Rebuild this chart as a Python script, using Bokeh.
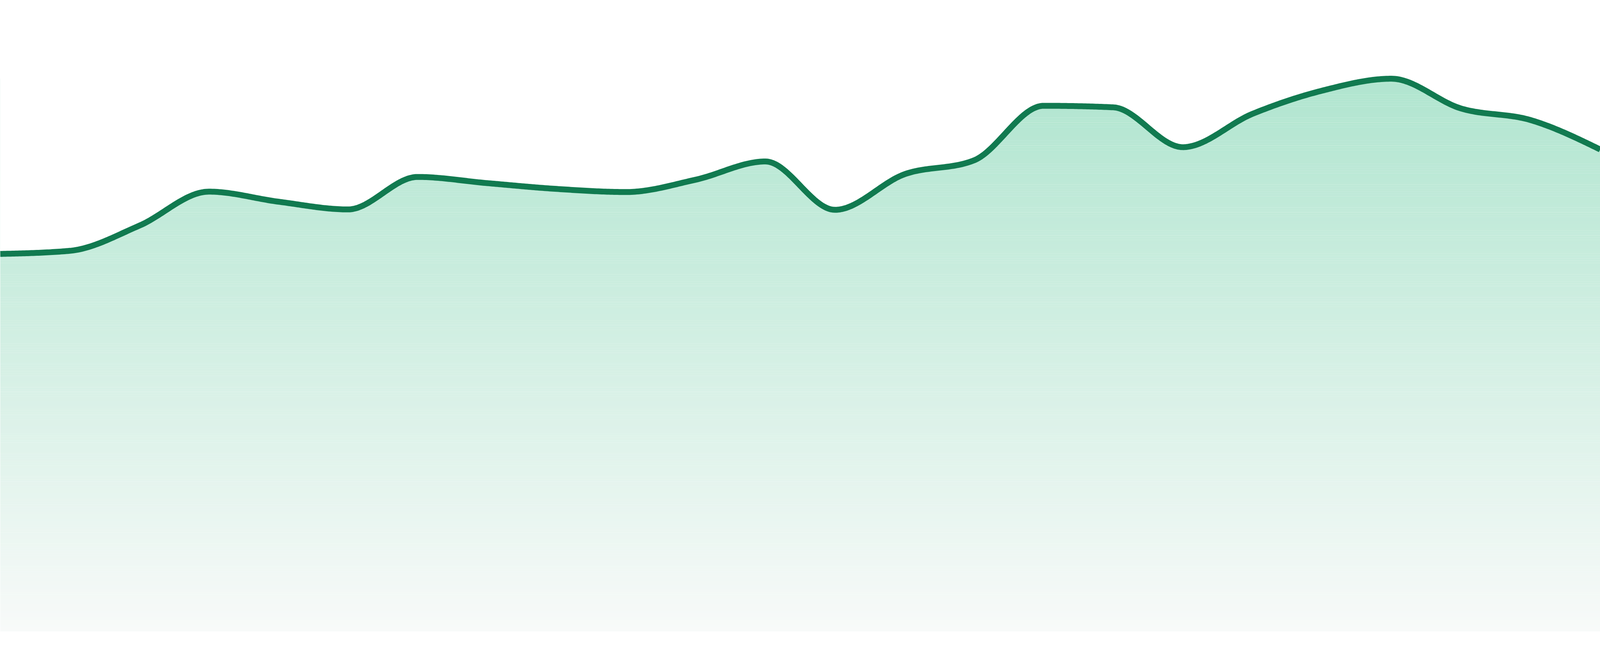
import numpy as np
from bokeh.plotting import figure
from bokeh.models import Range1d
from bokeh.embed import file_html
from bokeh.resources import INLINE

# ---- data ----
points = list(range(24))
values = [97.6, 98.4, 104.9, 113.7, 111.1, 109.1, 117.5, 115.9, 114.4, 113.6,
          116.8, 121.5, 109.0, 118.2, 121.8, 135.9, 135.5, 125.2, 133.8, 139.8,
          142.9, 135.2, 132.2, 124.6]

line_color = "#117a50"
grad_top = (176, 229, 207)
grad_bottom = (248, 250, 249)


def monotone_x(xs, ys, n=40):
    """Monotone cubic interpolation (same rule as d3.curveMonotoneX)."""
    xs = np.asarray(xs, float)
    ys = np.asarray(ys, float)
    m = len(xs)
    h = np.diff(xs)
    s = np.diff(ys) / h
    t = np.zeros(m)
    for i in range(1, m - 1):
        s0, s1 = s[i - 1], s[i]
        p = (s0 * h[i] + s1 * h[i - 1]) / (h[i - 1] + h[i])
        sg0 = -1 if s0 < 0 else 1
        sg1 = -1 if s1 < 0 else 1
        t[i] = (sg0 + sg1) * min(abs(s0), abs(s1), 0.5 * abs(p))
    t[0] = (3 * s[0] - t[1]) / 2
    t[-1] = (3 * s[-1] - t[-2]) / 2
    X, Y = [], []
    u = np.linspace(0, 1, n, endpoint=False)
    for i in range(m - 1):
        x0, x1 = xs[i], xs[i + 1]
        y0, y1 = ys[i], ys[i + 1]
        dx = (x1 - x0) / 3
        P = [(x0, y0), (x0 + dx, y0 + dx * t[i]), (x1 - dx, y1 - dx * t[i + 1]), (x1, y1)]
        b0 = (1 - u) ** 3
        b1 = 3 * (1 - u) ** 2 * u
        b2 = 3 * (1 - u) * u ** 2
        b3 = u ** 3
        X.extend(b0 * P[0][0] + b1 * P[1][0] + b2 * P[2][0] + b3 * P[3][0])
        Y.extend(b0 * P[0][1] + b1 * P[1][1] + b2 * P[2][1] + b3 * P[3][1])
    X.append(xs[-1])
    Y.append(ys[-1])
    return np.array(X), np.array(Y)


cx, cy = monotone_x(points, values)

y_lo, y_hi = -4.8, 163.2
p = figure(width=4096, height=1664, output_backend="svg", toolbar_location=None,
           x_range=Range1d(points[0], points[-1]), y_range=Range1d(y_lo, y_hi),
           min_border=0, background_fill_color="white", border_fill_color="white")
p.axis.visible = False
p.grid.visible = False
p.outline_line_color = None

# gradient fill: horizontal bands from the baseline to the top of the area
vmax = max(values)
nb = 240
edges = np.linspace(0, vmax, nb + 1)
colors = []
for k in range(nb):
    f = (edges[k] + edges[k + 1]) / 2 / vmax  # 0 bottom, 1 top
    r = round(grad_bottom[0] + (grad_top[0] - grad_bottom[0]) * f)
    g = round(grad_bottom[1] + (grad_top[1] - grad_bottom[1]) * f)
    b = round(grad_bottom[2] + (grad_top[2] - grad_bottom[2]) * f)
    colors.append("#%02x%02x%02x" % (r, g, b))
p.quad(left=points[0], right=points[-1], bottom=edges[:-1], top=edges[1:] + 0.02,
       fill_color=colors, line_color=None)

# white mask above the curve
p.varea(x=cx, y1=cy, y2=np.full_like(cy, y_hi + 5), fill_color="white")

# curve
p.line(cx, cy, line_color=line_color, line_width=15, line_join="round", line_cap="butt")

open("out.html", "w").write(file_html(p, INLINE))
